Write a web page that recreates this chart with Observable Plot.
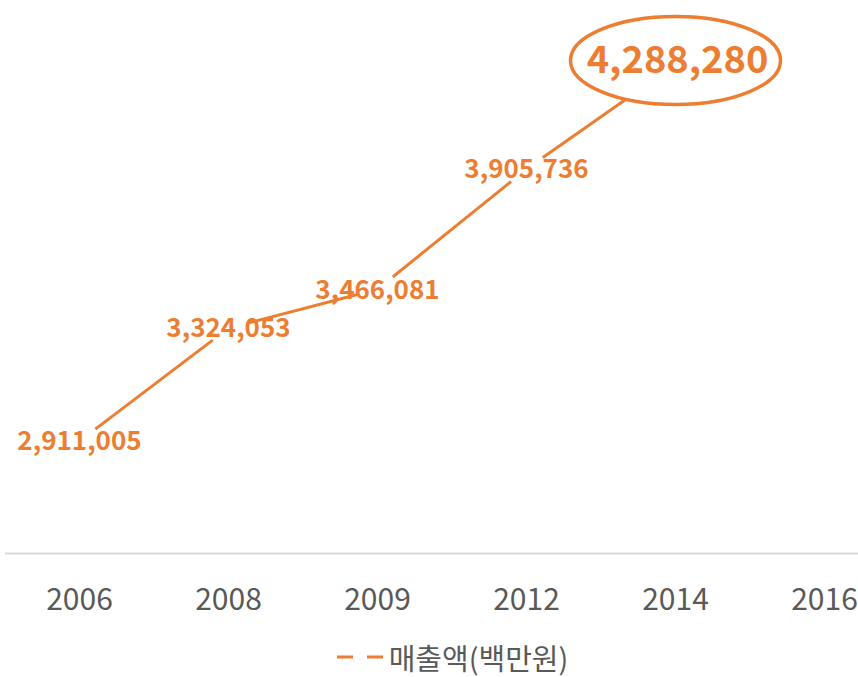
<!DOCTYPE html>
<html>
<head>
<meta charset="utf-8">
<script src="https://cdn.jsdelivr.net/npm/d3@7"></script>
<script src="https://cdn.jsdelivr.net/npm/@observablehq/plot@0.6"></script>
<style>
  html, body { margin: 0; padding: 0; background: #fff; }
  body { width: 858px; height: 677px; overflow: hidden; font-family: "Noto Sans CJK KR", "Noto Sans", sans-serif; }
  #legend { position: relative; height: 52px; display: flex; justify-content: center; align-items: center; gap: 5px; color: #595959; font-size: 29px; margin-top: 6px; padding-left: 46px; }
  #legend .sw { display: inline-block; }
</style>
</head>
<body>
<div id="chart"></div>
<div id="legend"></div>
<script>
const years = ["2006", "2008", "2009", "2012", "2014", "2016"];
const salesYears = ["2006", "2008", "2009", "2012", "2014"];
const sales = [2911005, 3324053, 3466081, 3905736, 4288280];
const seriesName = "매출액(백만원)";
const orange = "#ED7D31";

const data = salesYears.map((y, i) => ({year: y, value: sales[i]}));
const normal = data.slice(0, data.length - 1);
const highlight = data.slice(data.length - 1);
const fmt = d3.format(",");

const ellipse = {
  draw(ctx) {
    const rx = 105, ry = 44, k = 0.5523;
    ctx.moveTo(rx, 0);
    ctx.bezierCurveTo(rx, ry * k, rx * k, ry, 0, ry);
    ctx.bezierCurveTo(-rx * k, ry, -rx, ry * k, -rx, 0);
    ctx.bezierCurveTo(-rx, -ry * k, -rx * k, -ry, 0, -ry);
    ctx.bezierCurveTo(rx * k, -ry, rx, -ry * k, rx, 0);
    ctx.closePath();
  }
};

const chart = Plot.plot({
  width: 858,
  height: 625,
  marginLeft: 78,
  marginRight: 34,
  marginTop: 6,
  marginBottom: 72,
  style: {fontFamily: "'Noto Sans CJK KR', 'Noto Sans', sans-serif", background: "#fff"},
  x: {type: "point", domain: years, padding: 0},
  y: {domain: [2500000, 4500000], axis: null},
  marks: [
    Plot.ruleY([2500000], {stroke: "#d9d9d9", strokeWidth: 2, insetLeft: -73, insetRight: -34}),
    Plot.axisX({tickSize: 0, tickPadding: 35, fontSize: 30, color: "#595959", label: null}),
    Plot.line(data, {x: "year", y: "value", stroke: orange, strokeWidth: 3}),
    Plot.dot(normal, {x: "year", y: "value", r: 20, fill: "white"}),
    Plot.dot(highlight, {x: "year", y: "value", symbol: ellipse, r: 10, fill: "white", stroke: orange, strokeWidth: 3.5, dy: -4}),
    Plot.text(normal, {x: "year", y: "value", text: d => fmt(d.value), fontSize: 26, fontWeight: 700, fill: orange, dy: 1}),
    Plot.text(highlight, {x: "year", y: "value", text: d => fmt(d.value), fontSize: 38, fontWeight: 700, fill: orange, dy: -4, dx: 2})
  ]
});
document.getElementById("chart").appendChild(chart);

const legend = document.getElementById("legend");
legend.innerHTML = `<svg class="sw" width="48" height="10"><line x1="1" y1="5" x2="47" y2="5" stroke="${orange}" stroke-width="3" stroke-dasharray="16,14"/></svg><span>${seriesName}</span>`;
</script>
</body>
</html>
